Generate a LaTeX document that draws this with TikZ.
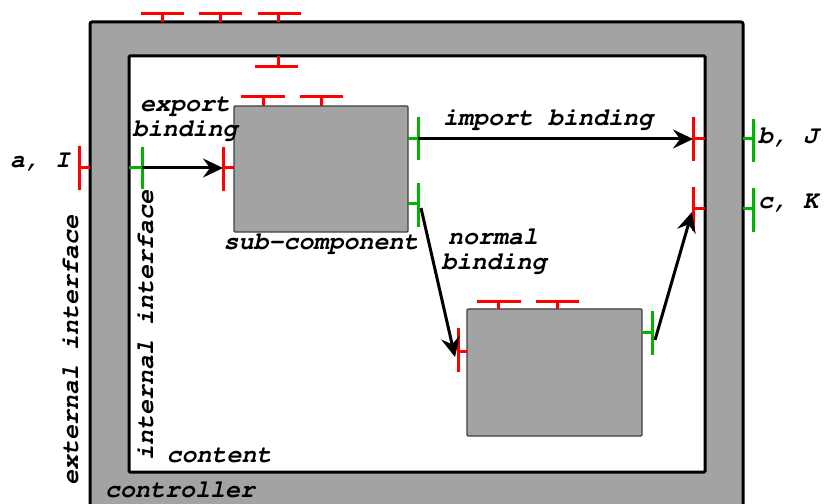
\documentclass[tikz,border=0pt]{standalone}
\usepackage[T1]{fontenc}
\usetikzlibrary{arrows.meta}
\definecolor{memgray}{HTML}{A3A3A3}
\definecolor{cltgreen}{HTML}{00B400}

\begin{document}
\begin{tikzpicture}[x=1bp,y=-1bp,
  srv/.style={red,line width=3bp},
  clt/.style={cltgreen,line width=3bp},
  comp/.style={draw=black!75,fill=memgray,line width=1.2bp,rounded corners=1bp},
  binding/.style={-{Stealth[length=20bp,width=19bp,inset=7bp]},line width=3bp},
  lbl/.style={font=\fontfamily{pcr}\fontseries{b}\fontshape{sl}\fontsize{25bp}{25bp}\selectfont,inner sep=0pt}]
\clip (0,0) rectangle (824,504);

% Membrane and content
\draw[fill=memgray,line width=3bp,rounded corners=2bp] (90,22) rectangle (743,540);
\draw[fill=white,line width=3bp,rounded corners=1bp] (129,56) rectangle (705,472);

% Sub-components
\node[comp,minimum width=174bp,minimum height=126bp] (sub) at (321,169) {};
\node[comp,minimum width=175bp,minimum height=127bp] (sub2) at (554.5,372.5) {};

% Control interfaces
\draw[srv] (141,14) -- (184,14) (162,14) -- (162,22);
\draw[srv] (199,14) -- (242,14) (220,14) -- (220,22);
\draw[srv] (258,14) -- (301,14) (278,14) -- (278,22);
\draw[srv] (255,67) -- (298,67) (278,67) -- (278,56);
\draw[srv] (241,97) -- (285,97) (263,97) -- (263,106);
\draw[srv] (300,97) -- (343,97) (321,97) -- (321,106);
\draw[srv] (477,301) -- (521,301) (498,301) -- (498,309);
\draw[srv] (536,301) -- (579,301) (557,301) -- (557,309);

% Left interfaces
\draw[srv] (79,146) -- (79,190) (79,168) -- (90,168);
\draw[clt] (142,147) -- (142,189) (142,168) -- (129,168);
\draw[srv] (223,147) -- (223,191) (223,168) -- (234,168);
\coordinate (expA) at (142,168);
\coordinate (expB) at (223,168);

% Right interfaces of sub-component
\draw[clt] (418,117) -- (418,160) (418,139) -- (408,139);
\draw[clt] (418,183) -- (418,227) (418,204) -- (408,204);
\coordinate (impA) at (418,139);
\coordinate (norA) at (421,208);

% Internal interfaces on the right
\draw[srv] (693,117) -- (693,161) (693,139) -- (705,139);
\draw[srv] (693,187) -- (693,231) (693,209) -- (705,209);
\coordinate (impB) at (693,139);
\coordinate (retB) at (692,212);

% External interfaces on the right
\draw[clt] (753,119) -- (753,162) (753,139) -- (743,139);
\draw[clt] (753,188) -- (753,232) (753,209) -- (743,209);

% Second sub-component interfaces
\draw[srv] (458,328) -- (458,372) (458,351) -- (467,351);
\draw[clt] (652,311) -- (652,355) (652,332) -- (642,332);
\coordinate (norB) at (455,357);
\coordinate (retA) at (655,340);

% Bindings
\draw[binding] (expA) -- (expB);
\draw[binding] (impA) -- (impB);
\draw[binding] (norA) -- (norB);
\draw[binding] (retA) -- (retB);

% Labels
\node[lbl,anchor=base west] (lblA) at (10,168) {a, I};
\node[lbl,anchor=base west] (lblB) at (758,144) {b, J};
\node[lbl,anchor=base west] (lblC) at (758,209) {c, K};
\node[lbl,anchor=base] (lblExp1) at (185,112) {export};
\node[lbl,anchor=base] (lblExp2) at (185,137) {binding};
\node[lbl,anchor=base] (lblImp) at (548,126) {import binding};
\node[lbl,anchor=base] (lblSub) at (321,250) {sub-component};
\node[lbl,anchor=base] (lblNor1) at (493,245) {normal};
\node[lbl,anchor=base] (lblNor2) at (494,270) {binding};
\node[lbl,anchor=base] (lblCont) at (219,462) {content};
\node[lbl,anchor=base] (lblCtrl) at (180,497) {controller};
\node[lbl,rotate=90,anchor=base] (lblExt) at (78,350) {external interface};
\node[lbl,rotate=90,anchor=base] (lblInt) at (153,325) {internal interface};
\end{tikzpicture}
\end{document}
